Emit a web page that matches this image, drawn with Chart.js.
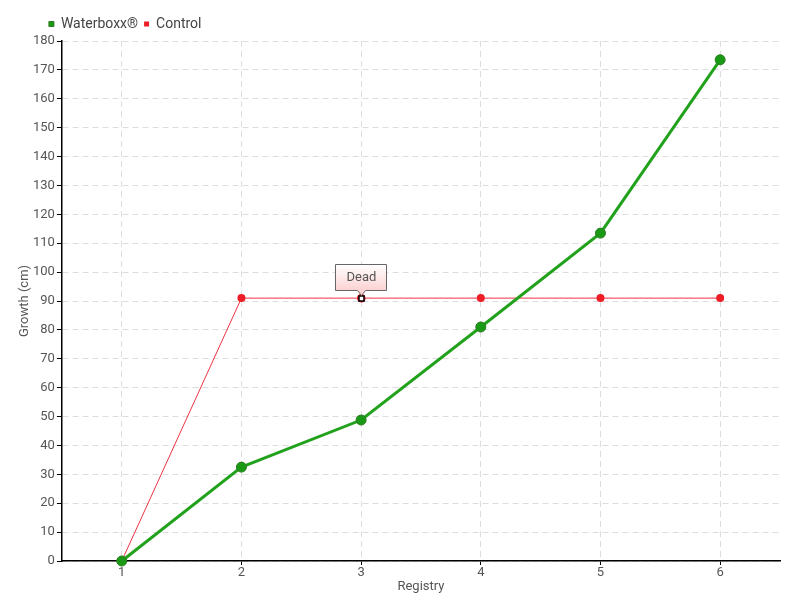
<!DOCTYPE html>
<html>
<head>
<meta charset="utf-8">
<script src="https://cdn.jsdelivr.net/npm/chart.js@4/dist/chart.umd.min.js"></script>
<style>
  html, body { margin: 0; padding: 0; background: #fff; }
  #wrap { width: 800px; height: 600px; }
</style>
</head>
<body>
<div id="wrap"><canvas id="chart" width="800" height="600"></canvas></div>
<script>
// ================= DATA =================
const registry = ["1", "2", "3", "4", "5", "6"];
const waterboxx = [0, 32.5, 48.8, 81, 113.5, 173.5];
const control = [0, 91, 91, 91, 91, 91];
const deadIndex = 2;
const deadLabel = "Dead";

const FONT = "Roboto, 'DejaVu Sans', sans-serif";

// ================= ANNOTATION =================
const deadNote = {
  id: "deadNote",
  afterDatasetsDraw(chart) {
    const meta = chart.getDatasetMeta(1);
    const pt = meta.data[deadIndex];
    const ctx = chart.ctx;
    const x = Math.round(pt.x) + 0.5, y = Math.round(pt.y) + 0.5;
    ctx.save();
    // point marker
    ctx.fillStyle = "#ee1c25";
    ctx.beginPath(); ctx.arc(x, y, 4, 0, Math.PI * 2); ctx.fill();
    ctx.fillStyle = "#fff";
    ctx.strokeStyle = "#000";
    ctx.lineWidth = 1.5;
    ctx.fillRect(x - 2.5, y - 2.5, 5, 5);
    ctx.strokeRect(x - 2.5, y - 2.5, 5, 5);
    // box
    const w = 51, h = 26, bx = x - 26, by = y - 34;
    const g = ctx.createLinearGradient(0, by, 0, by + h);
    g.addColorStop(0, "#ffffff");
    g.addColorStop(1, "#fcd2d2");
    ctx.fillStyle = g;
    ctx.strokeStyle = "#666";
    ctx.lineWidth = 1;
    ctx.beginPath();
    ctx.moveTo(bx, by);
    ctx.lineTo(bx + w, by);
    ctx.lineTo(bx + w, by + h);
    ctx.lineTo(x + 4, by + h);
    ctx.lineTo(x, by + h + 5);
    ctx.lineTo(x - 4, by + h);
    ctx.lineTo(bx, by + h);
    ctx.closePath();
    ctx.fill(); ctx.stroke();
    ctx.fillStyle = "#555";
    ctx.font = "13px " + FONT;
    ctx.textAlign = "center";
    ctx.textBaseline = "middle";
    ctx.fillText(deadLabel, x, by + h / 2);
    ctx.restore();
  }
};

// shift the legend a bit left of the plot area, like the original
const legendShift = {
  id: "legendShift",
  afterLayout(chart) {
    const lg = chart.legend;
    lg.left -= 19; lg.right -= 19;
    lg.adjustHitBoxes();
  }
};

// ================= CHART =================
new Chart(document.getElementById("chart"), {
  type: "line",
  data: {
    labels: registry,
    datasets: [
      {
        label: "Waterboxx®",
        data: waterboxx,
        borderColor: "#22a21c",
        backgroundColor: "#1a9a14",
        pointBorderColor: "#2d7a22",
        borderWidth: 3,
        pointRadius: 5,
        pointBorderWidth: 1,
        tension: 0,
        clip: false
      },
      {
        label: "Control",
        data: control,
        borderColor: "#ee3344",
        backgroundColor: "#ee1c25",
        pointBorderColor: "#ee1c25",
        borderWidth: 1,
        pointRadius: 4,
        pointBorderWidth: 0,
        tension: 0,
        clip: false
      }
    ]
  },
  options: {
    responsive: false,
    animation: false,
    layout: { padding: { top: 11, right: 20, left: 18, bottom: 7 } },
    plugins: {
      legend: {
        align: "start",
        fullSize: false,
        labels: {
          usePointStyle: true,
          pointStyle: "rect",
          boxWidth: 5,
          boxHeight: 5,
          padding: 6,
          color: "#444",
          font: { family: FONT, size: 14 }
        }
      },
      tooltip: { enabled: false }
    },
    scales: {
      x: {
        offset: true,
        title: { display: true, text: "Registry", color: "#555", padding: 0, font: { family: FONT, size: 13, lineHeight: 1 } },
        grid: { color: "#dddddd", tickColor: "#000", tickLength: 4, offset: false },
        border: { color: "#000", width: 1.5, dash: [6, 4] },
        ticks: { color: "#555", font: { family: FONT, size: 13, lineHeight: 1 }, padding: 1 }
      },
      y: {
        min: 0,
        max: 180,
        title: { display: true, text: "Growth (cm)", color: "#555", padding: 0, font: { family: FONT, size: 13, lineHeight: 1 } },
        grid: { color: "#dddddd", tickColor: "#000", tickLength: 5 },
        border: { color: "#000", width: 1.5, dash: [6, 4] },
        ticks: { stepSize: 10, color: "#555", font: { family: FONT, size: 13 }, padding: 2 }
      }
    }
  },
  plugins: [deadNote, legendShift]
});
</script>
</body>
</html>
